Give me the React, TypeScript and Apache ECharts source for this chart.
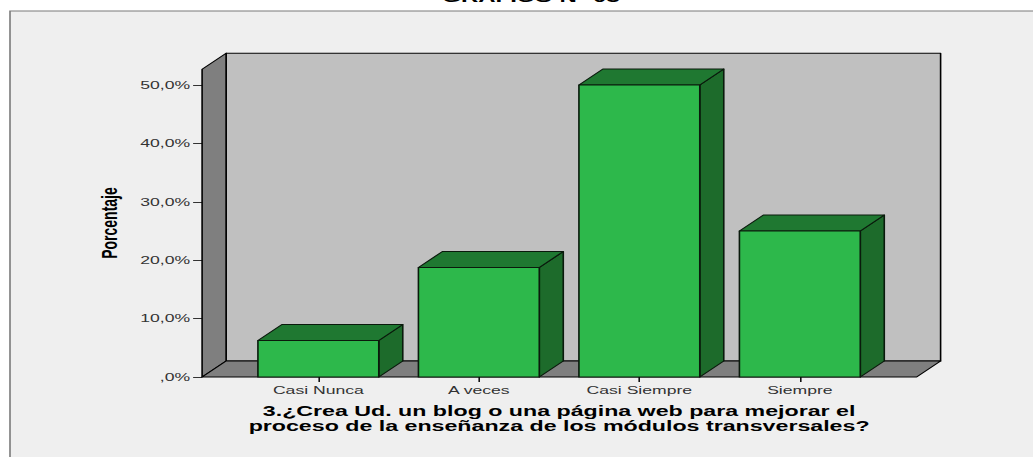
import React, { useEffect, useRef } from "react";
import * as echarts from "echarts";

// ---- data ----
const categories: string[] = ["Casi Nunca", "A veces", "Casi Siempre", "Siempre"];
const percentages: number[] = [6.25, 18.75, 50.0, 25.0];
const yTicks: number[] = [0, 10, 20, 30, 40, 50];
const chartTitle = "GRAFICO N° 03";
const xTitle = "3.¿Crea Ud. un blog o una página web para mejorar el\nproceso de la enseñanza de los módulos transversales?";
const yTitle = "Porcentaje";
const WALL_TOP = 52.7; // value reached by the 3D walls

// ---- layout (the source picture is stretched horizontally) ----
const S = 1.6;
const W = 1033;
const H = 457;
const px = (x: number) => x / S;
const DX = px(24);
const DY = -16;
const PAD_L = px(36);
const PAD_R = px(36.5);
const BAR_RATIO = 0.753;

const LABEL_FONT = '"Liberation Sans", Arial, sans-serif';

export default function App() {
  const ref = useRef<HTMLDivElement>(null);

  useEffect(() => {
    if (!ref.current) return;
    const chart = echarts.init(ref.current, undefined, { renderer: "svg" });

    const wallsRender = (_params: any, api: any) => {
      const band = api.size([1, 0])[0];
      const l = api.coord([0, 0])[0] - band / 2 - PAD_L;
      const r = api.coord([categories.length - 1, 0])[0] + band / 2 + PAD_R;
      const yb = api.coord([0, 0])[1];
      const yt = api.coord([0, WALL_TOP])[1];
      const line = { stroke: "#000", lineWidth: 1, lineJoin: "round" };
      return {
        type: "group",
        children: [
          {
            type: "polygon",
            shape: { points: [[l + DX, yt + DY], [r + DX, yt + DY], [r + DX, yb + DY], [l + DX, yb + DY]] },
            style: { fill: "#c0c0c0", ...line },
          },
          {
            type: "polygon",
            shape: { points: [[l, yb], [l, yt], [l + DX, yt + DY], [l + DX, yb + DY]] },
            style: { fill: "#7f7f7f", ...line },
          },
          {
            type: "polygon",
            shape: { points: [[l, yb], [r, yb], [r + DX, yb + DY], [l + DX, yb + DY]] },
            style: { fill: "#7f7f7f", ...line },
          },
        ],
      };
    };

    const barsRender = (_params: any, api: any) => {
      const top = api.coord([api.value(0), api.value(1)]);
      const base = api.coord([api.value(0), 0]);
      const w = api.size([1, 0])[0] * BAR_RATIO;
      const x0 = top[0] - w / 2;
      const x1 = top[0] + w / 2;
      const yt = top[1];
      const yb = base[1];
      const line = { stroke: "#0a1a0c", lineWidth: 1, lineJoin: "round" };
      return {
        type: "group",
        children: [
          {
            type: "polygon",
            shape: { points: [[x1, yt], [x1 + DX, yt + DY], [x1 + DX, yb + DY], [x1, yb]] },
            style: { fill: "#1d6b2b", ...line },
          },
          {
            type: "polygon",
            shape: { points: [[x0, yt], [x1, yt], [x1 + DX, yt + DY], [x0 + DX, yt + DY]] },
            style: { fill: "#1f7831", ...line },
          },
          {
            type: "rect",
            shape: { x: x0, y: yt, width: w, height: yb - yt },
            style: { fill: "#2db84b", ...line },
          },
        ],
      };
    };

    const gridLeft = px(238.1);
    const gridRight = px(W - 879.5);

    chart.setOption({
      animation: false,
      backgroundColor: "#ffffff",
      graphic: [
        {
          type: "rect",
          z: -10,
          silent: true,
          shape: { x: px(10), y: 11, width: px(1200), height: 600 },
          style: { fill: "#efefef", stroke: "#7a7a7a", lineWidth: 1 },
        },
        {
          type: "text",
          silent: true,
          x: px(531),
          y: 4,
          style: {
            text: chartTitle,
            textAlign: "center",
            textVerticalAlign: "bottom",
            font: 'bold 15px "Liberation Sans", Arial, sans-serif',
            fill: "#000",
          },
        },
      ],
      grid: { left: gridLeft, right: gridRight, top: 85, bottom: 80, containLabel: false },
      xAxis: {
        type: "category",
        data: categories,
        axisLine: { show: false },
        axisTick: { show: true, alignWithLabel: true, length: 5, lineStyle: { color: "#111", width: 1 } },
        axisLabel: { margin: 8, color: "#333", fontSize: 11, fontFamily: LABEL_FONT },
        splitLine: { show: false },
        name: xTitle,
        nameLocation: "middle",
        nameGap: 41,
        nameTextStyle: {
          fontWeight: "bold",
          fontSize: 14.5,
          lineHeight: 14.5,
          color: "#000",
          fontFamily: LABEL_FONT,
          align: "center",
          verticalAlign: "middle",
        },
      },
      yAxis: {
        type: "value",
        min: yTicks[0],
        max: yTicks[yTicks.length - 1],
        interval: yTicks[1] - yTicks[0],
        offset: PAD_L,
        axisLine: { show: false },
        axisTick: { show: true, length: px(9), lineStyle: { color: "#333", width: 1 } },
        splitLine: { show: false },
        axisLabel: {
          margin: px(12),
          color: "#333",
          fontSize: 11,
          fontFamily: LABEL_FONT,
          formatter: (v: number) => (v === 0 ? ",0%" : v.toFixed(1).replace(".", ",") + "%"),
        },
        name: yTitle,
        nameLocation: "middle",
        nameGap: px(93),
        nameRotate: 90,
        nameTextStyle: {
          fontWeight: "bold",
          fontSize: 14,
          color: "#000",
          fontFamily: '"Liberation Sans Narrow", "Arial Narrow", "Liberation Sans", sans-serif',
          align: "center",
          verticalAlign: "middle",
          padding: [0, 0, 0, 16],
        },
      },
      series: [
        {
          type: "custom",
          name: "walls",
          silent: true,
          clip: false,
          z: 1,
          renderItem: wallsRender,
          data: [[0, 0]],
          encode: { x: 0, y: 1 },
        },
        {
          type: "custom",
          name: "Porcentaje",
          clip: false,
          z: 2,
          renderItem: barsRender,
          data: categories.map((c, i) => [i, percentages[i]]),
          encode: { x: 0, y: 1 },
        },
      ],
    });

    return () => chart.dispose();
  }, []);

  return (
    <div style={{ position: "fixed", left: 0, top: 0, width: W, height: H, overflow: "hidden", background: "#fff" }}>
      <div
        ref={ref}
        style={{ width: W / S, height: H, transform: `scaleX(${S})`, transformOrigin: "0 0" }}
      />
    </div>
  );
}
